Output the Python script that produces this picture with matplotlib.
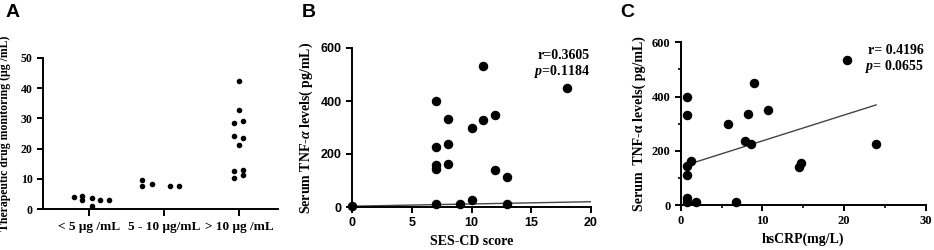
import matplotlib
matplotlib.use("Agg")
import matplotlib.pyplot as plt
from matplotlib.ticker import MultipleLocator

serif = "Liberation Serif"
sans = "Liberation Sans"
plt.rcParams["mathtext.fontset"] = "custom"
plt.rcParams["mathtext.it"] = "Liberation Serif:italic:bold"
plt.rcParams["mathtext.rm"] = "Liberation Serif:bold"

# Panel A: TDM groups
groups_a = ["< 5 μg /mL", "5 - 10 μg/mL", "> 10 μg /mL"]
a_low_x = [-0.2, -0.09, -0.09, 0.04, 0.04, 0.15, 0.27]
a_low_y = [4.0, 4.4, 2.9, 3.5, 0.9, 2.9, 3.1]
a_mid_x = [0.71, 0.71, 0.84, 1.08, 1.2]
a_mid_y = [9.5, 7.5, 8.4, 7.5, 7.5]
a_high_x = [2.0, 2.0, 1.94, 2.06, 1.94, 2.06, 2.0, 1.94, 2.06, 1.94, 2.06]
a_high_y = [42.4, 32.9, 28.4, 29.1, 24.3, 23.5, 21.3, 12.6, 13.0, 10.4, 11.1]

# Panel B: SES-CD vs TNF-a
b_x = [0, 7, 7, 7, 7, 7, 8, 8, 8, 9, 10, 10, 11, 11, 12, 12, 13, 13, 18]
b_y = [5, 400, 226, 157, 145, 12, 333, 236, 161, 12, 299, 25, 532, 329, 348, 141, 113, 12, 449]
b_fit_x = [0, 20]
b_fit_y = [3, 20]

# Panel C: hsCRP vs TNF-a
c_x = [0.73, 0.73, 0.73, 0.73, 0.73, 0.73, 1.26, 1.9, 5.8, 6.8, 7.9, 8.2, 8.6, 9.0, 10.7, 14.5, 14.7, 20.3, 23.9]
c_y = [400, 330, 145, 112, 25, 12, 161, 11, 300, 11, 236, 334, 225, 450, 349, 141, 156, 534, 225]
c_fit_x = [0.73, 23.9]
c_fit_y = [148, 369]

fig = plt.figure(figsize=(9.34, 2.5), dpi=100)

def style_axes(ax, tickfont):
    ax.spines["top"].set_visible(False)
    ax.spines["right"].set_visible(False)
    for s in ["left", "bottom"]:
        ax.spines[s].set_linewidth(1.4)
    ax.tick_params(direction="out", width=1.4, length=4, labelsize=8.5)
    ax.tick_params(which="minor", direction="out", width=1.2, length=2.5)
    for lab in ax.get_xticklabels() + ax.get_yticklabels():
        lab.set_fontfamily(tickfont)
        lab.set_fontweight("bold")

# ---- A ----
axA = fig.add_axes([0.046, 0.164, 0.2516, 0.604])
axA.scatter(a_low_x, a_low_y, s=9, color="black")
axA.scatter(a_mid_x, a_mid_y, s=9, color="black")
axA.scatter(a_high_x, a_high_y, s=9, color="black")
axA.set_xlim(-0.61, 2.52)
axA.set_ylim(0, 50)
axA.set_xticks([0, 1, 2])
axA.set_xticklabels(groups_a)
axA.set_yticks([0, 10, 20, 30, 40, 50])
style_axes(axA, serif)
axA.tick_params(axis="x", labelsize=9.5, length=5)
axA.set_ylabel("Therapeutic drug monitoring (μg /mL)", fontfamily=serif,
               fontweight="bold", fontsize=8.5, labelpad=7)
fig.text(0.006, 0.95, "A", fontfamily=sans, fontweight="bold", fontsize=14,
         va="center")

# ---- B ----
axB = fig.add_axes([0.3769, 0.172, 0.2559, 0.636])
axB.scatter(b_x, b_y, s=34, color="black", zorder=3, clip_on=False)
axB.plot(b_fit_x, b_fit_y, color="#444444", lw=1.0)
axB.set_xlim(0, 20)
axB.set_ylim(0, 600)
axB.set_xticks([0, 5, 10, 15, 20])
axB.set_yticks([0, 200, 400, 600])
style_axes(axB, sans)
axB.tick_params(labelsize=9)
axB.set_xlabel("SES-CD score", fontfamily=serif, fontweight="bold", fontsize=10)
axB.set_ylabel("Serum TNF-$\\mathit{α}$ levels( pg/mL)", fontfamily=serif,
               fontweight="bold", fontsize=10, labelpad=4)
axB.text(0.995, 0.93, "r=0.3605", transform=axB.transAxes, ha="right",
         fontfamily=serif, fontweight="bold", fontsize=10)
axB.text(0.995, 0.83, "$\\mathit{p}$=0.1184", transform=axB.transAxes, ha="right",
         fontfamily=serif, fontweight="bold", fontsize=10)
fig.text(0.323, 0.95, "B", fontfamily=sans, fontweight="bold", fontsize=14,
         va="center")

# ---- C ----
axC = fig.add_axes([0.7288, 0.18, 0.2626, 0.651])
axC.scatter(c_x, c_y, s=34, color="black", zorder=3, clip_on=False)
axC.plot(c_fit_x, c_fit_y, color="#444444", lw=1.0)
axC.set_xlim(0, 30)
axC.set_ylim(0, 600)
axC.set_xticks([0, 10, 20, 30])
axC.set_yticks([0, 200, 400, 600])
axC.xaxis.set_minor_locator(MultipleLocator(5))
axC.yaxis.set_minor_locator(MultipleLocator(100))
style_axes(axC, serif)
axC.tick_params(labelsize=9)
axC.set_xlabel("hsCRP(mg/L)", fontfamily=serif, fontweight="bold", fontsize=10)
axC.set_ylabel("Serum  TNF-α levels( pg/mL)", fontfamily=serif,
               fontweight="bold", fontsize=10, labelpad=4)
axC.text(0.99, 0.93, "r= 0.4196", transform=axC.transAxes, ha="right",
         fontfamily=serif, fontweight="bold", fontsize=10)
axC.text(0.99, 0.83, "$\\mathit{p}$= 0.0655", transform=axC.transAxes, ha="right",
         fontfamily=serif, fontweight="bold", fontsize=10)
fig.text(0.664, 0.95, "C", fontfamily=sans, fontweight="bold", fontsize=14,
         va="center")

fig.savefig("out.png", dpi=100)
